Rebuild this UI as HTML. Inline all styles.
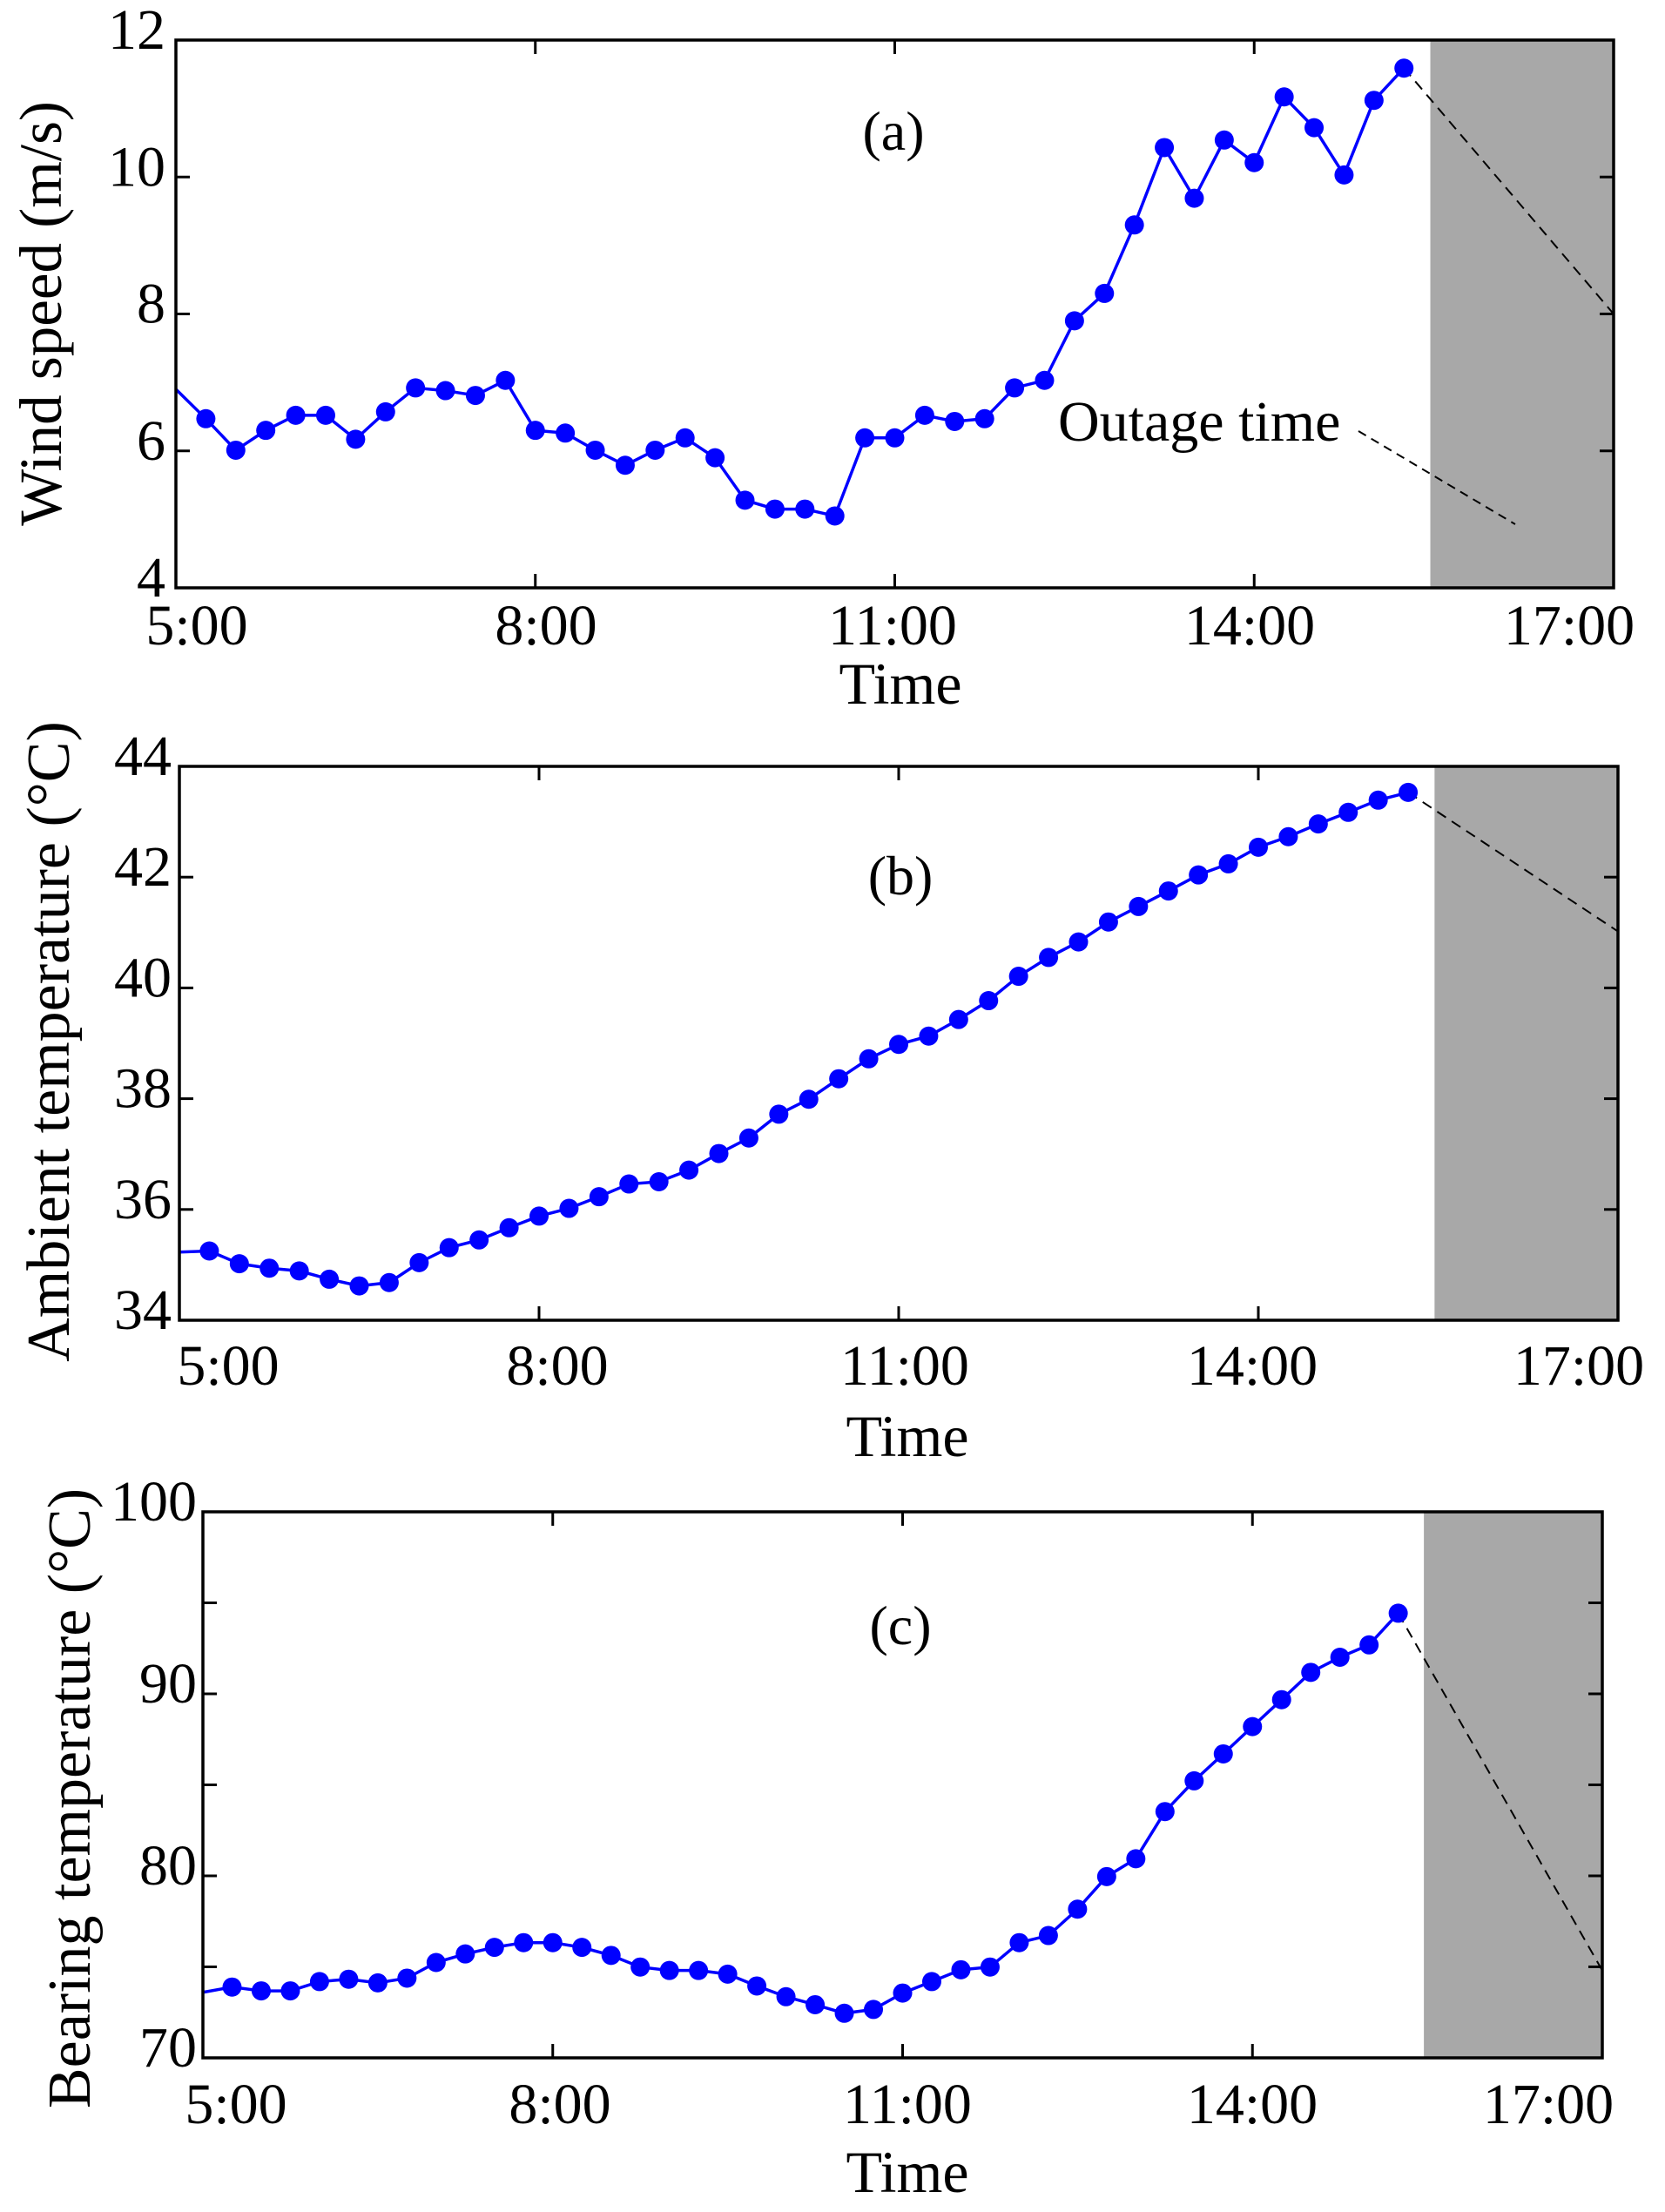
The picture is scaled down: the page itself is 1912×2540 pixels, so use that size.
<!DOCTYPE html>
<html><head><meta charset="utf-8"><style>
html,body{margin:0;padding:0;background:#fff;}
svg{display:block;font-family:"Liberation Serif",serif;}
</style></head><body>
<svg id="fig" width="1912" height="2540" viewBox="0 0 1912 2540" xmlns="http://www.w3.org/2000/svg"></svg>
<script>
const timeTickLabels = ["5:00","8:00","11:00","14:00","17:00"];
const windTicks = [4,6,8,10,12];
const ambientTicks = [34,36,38,40,42,44];
const bearingTicks = [70,80,90,100];
// values every 15 min starting 5:00 (index 0)
const windSpeed = [6.90,6.47,6.01,6.30,6.52,6.52,6.17,6.57,6.92,6.88,6.81,7.03,6.30,6.26,6.01,5.79,6.01,6.19,5.90,5.28,5.15,5.15,5.05,6.19,6.19,6.52,6.43,6.47,6.92,7.03,7.90,8.30,9.30,10.43,9.69,10.54,10.21,11.17,10.72,10.03,11.12,11.59];
const ambientTemp = [35.23,35.25,35.02,34.94,34.89,34.74,34.62,34.68,35.04,35.31,35.45,35.67,35.88,36.02,36.23,36.46,36.50,36.71,37.01,37.29,37.72,37.99,38.36,38.72,38.98,39.13,39.43,39.77,40.21,40.55,40.83,41.19,41.47,41.75,42.04,42.24,42.54,42.73,42.96,43.17,43.39,43.53];
const bearingTemp = [73.6,73.89,73.68,73.68,74.19,74.32,74.12,74.38,75.24,75.71,76.07,76.33,76.33,76.07,75.63,74.99,74.80,74.80,74.60,73.95,73.36,72.92,72.45,72.66,73.56,74.19,74.84,74.99,76.33,76.72,78.17,79.96,80.94,83.53,85.22,86.70,88.20,89.68,91.18,92.01,92.69,94.43];
const forecastEnd = [8.0, 41.02, 74.8]; // value at 17:00
const outageStartHour = 15.47;

const NS="http://www.w3.org/2000/svg";
const svg=document.getElementById('fig');
function mk(tag,attrs,parent){const e=document.createElementNS(NS,tag);for(const k in attrs)e.setAttribute(k,attrs[k]);(parent||svg).appendChild(e);return e;}

const panels=[
 {id:'a',L:202,R:1853,T:46,B:675,ymin:4,ymax:12,ticks:windTicks,data:windSpeed,end:forecastEnd[0],
  ylab:'Wind speed (m/s)',ylfs:69,ylx:48,yly:360,ytx:190,xlabY:740,xlabX:[226,627,1025,1435,1802],timeX:1034,timeY:808,tag:'(a)',tagX:1026,tagY:172},
 {id:'b',L:206,R:1858,T:880,B:1516,ymin:34,ymax:44,ticks:ambientTicks,data:ambientTemp,end:forecastEnd[1],
  ylab:'Ambient temperature (°C)',ylfs:70,ylx:57,yly:1196,ytx:197,xlabY:1590,xlabX:[262,640,1039,1438,1813],timeX:1042,timeY:1672,tag:'(b)',tagX:1034,tagY:1027},
 {id:'c',L:233,R:1840,T:1736,B:2363,ymin:70,ymax:100,ticks:bearingTicks,data:bearingTemp,end:forecastEnd[2],
  ylab:'Bearing temperature (°C)',ylfs:70,ylx:81,yly:2065,ytx:226,xlabY:2438,xlabX:[271,643,1042,1438,1778],timeX:1042,timeY:2517,tag:'(c)',tagX:1034,tagY:1888}
];

panels.forEach(p=>{
 const g=mk('g',{});
 
 
 const xs=h=>p.L+(h-5)/12*(p.R-p.L);
 const ys=v=>p.B-(v-p.ymin)/(p.ymax-p.ymin)*(p.B-p.T);
 const sh=mk('rect',{x:xs(outageStartHour),y:p.T,width:p.R-xs(outageStartHour),height:p.B-p.T,fill:'#a8a8a8'},g);
 
 
 for(let i=0;i<5;i++){const x=xs(5+3*i);
  mk('line',{x1:x,y1:p.T,x2:x,y2:p.T+16,stroke:'#000','stroke-width':3},g);
  mk('line',{x1:x,y1:p.B,x2:x,y2:p.B-16,stroke:'#000','stroke-width':3},g);
  const t=mk('text',{x:p.xlabX[i],y:p.xlabY,'font-size':66,'text-anchor':'middle'},g);
  t.textContent=timeTickLabels[i];
  
  
 }
 const yt=p.id==='c'?[70,75,80,85,90,95,100]:p.ticks;
 yt.forEach(v=>{const y=ys(v);
  mk('line',{x1:p.L,y1:y,x2:p.L+16,y2:y,stroke:'#000','stroke-width':3},g);
  mk('line',{x1:p.R,y1:y,x2:p.R-16,y2:y,stroke:'#000','stroke-width':3},g);
 });
 p.ticks.forEach(v=>{
  const t=mk('text',{x:p.ytx,y:ys(v)+10,'font-size':66,'text-anchor':'end'},g);
  t.textContent=String(v);
  
  
 });
 const pts=p.data.map((v,i)=>xs(5+i*0.25)+','+ys(v)).join(' ');
 const ln=mk('polyline',{points:pts,fill:'none',stroke:'#0000ff','stroke-width':3.5},g);
 
 
 const last=p.data.length-1;
 const dl=mk('line',{x1:xs(5+last*0.25),y1:ys(p.data[last]),x2:xs(17),y2:ys(p.end),stroke:'#000','stroke-width':2,'stroke-dasharray':'12,8'},g);
 
 
 p.data.forEach((v,i)=>{ if(i===0) return;
  const c=mk('circle',{cx:xs(5+i*0.25),cy:ys(v),r:11,fill:'#0000ff'},g);
  
  
 });
 const fr=mk('rect',{x:p.L,y:p.T,width:p.R-p.L,height:p.B-p.T,fill:'none',stroke:'#000','stroke-width':3.5},g);
 
 
 const tg=mk('text',{x:p.tagX,y:p.tagY,'font-size':64,'text-anchor':'middle'},g);
 tg.textContent=p.tag;
 
 
 const tt=mk('text',{x:p.timeX,y:p.timeY,'font-size':68,'text-anchor':'middle'},g);
 tt.textContent='Time';
 
 
 const yl=mk('text',{x:0,y:0,'font-size':p.ylfs,'text-anchor':'middle',transform:`translate(${p.ylx+22},${p.yly}) rotate(-90)`},g);
 yl.textContent=p.ylab;
 
 
 if(p.id==='a'){
  const ot=mk('text',{x:1215,y:506,'font-size':66},g);
  ot.textContent='Outage time';
  
  
  const ol=mk('line',{x1:1560,y1:495,x2:1740,y2:602,stroke:'#000','stroke-width':2,'stroke-dasharray':'10,7'},g);
  
  
 }
});
</script>
</body></html>
